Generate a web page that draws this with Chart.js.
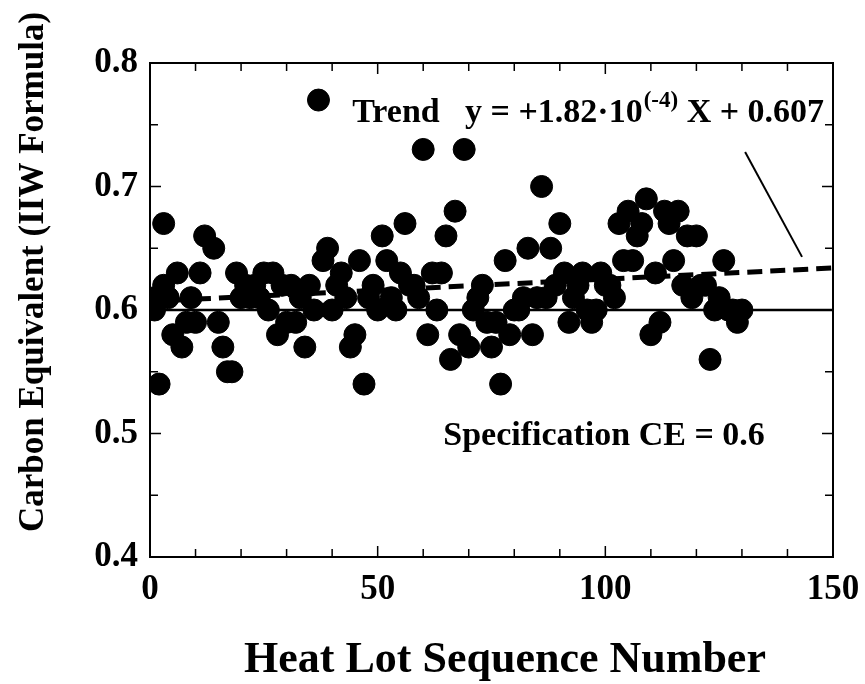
<!DOCTYPE html>
<html>
<head>
<meta charset="utf-8">
<script src="https://cdn.jsdelivr.net/npm/chart.js@4.4.1/dist/chart.umd.min.js"></script>
<style>
  html, body { margin: 0; padding: 0; background: #fff; }
  canvas { display: block; }
</style>
</head>
<body>
<canvas id="ceChart" width="865" height="684"></canvas>
<script>
// heat lot sequence numbers and carbon equivalent values
const heatLot = [
  1, 1, 2, 3, 3, 4, 5, 6, 7, 8, 9, 10, 11, 12, 14, 15, 16, 17, 18, 19,
  20, 21, 22, 23, 24, 25, 26, 27, 28, 29, 30, 31, 32, 33, 34, 35, 36, 37, 38, 39,
  40, 41, 42, 43, 44, 45, 46, 47, 48, 49, 50, 51, 52, 53, 54, 55, 56, 57, 58, 59,
  60, 61, 62, 63, 64, 65, 66, 67, 68, 69, 70, 71, 72, 73, 74, 75, 76, 77, 78, 79,
  80, 81, 82, 83, 84, 85, 86, 87, 88, 89, 90, 91, 92, 93, 94, 95, 96, 97, 98, 99,
  100, 101, 102, 103, 104, 105, 106, 107, 108, 109, 110, 111, 112, 113, 114, 115, 116, 117, 118, 119,
  120, 121, 122, 123, 124, 125, 126, 127, 128, 129, 130
];
const carbonEq = [
  0.61, 0.60, 0.54, 0.67, 0.62, 0.61, 0.58, 0.63, 0.57, 0.59, 0.61, 0.59, 0.63, 0.66, 0.65, 0.59, 0.57, 0.55, 0.55, 0.63,
  0.61, 0.62, 0.61, 0.62, 0.61, 0.63, 0.60, 0.63, 0.58, 0.62, 0.59, 0.62, 0.59, 0.61, 0.57, 0.62, 0.60, 0.77, 0.64, 0.65,
  0.60, 0.62, 0.63, 0.61, 0.57, 0.58, 0.64, 0.54, 0.61, 0.62, 0.60, 0.66, 0.64, 0.61, 0.60, 0.63, 0.67, 0.62, 0.62, 0.61,
  0.73, 0.58, 0.63, 0.60, 0.63, 0.66, 0.56, 0.68, 0.58, 0.73, 0.57, 0.60, 0.61, 0.62, 0.59, 0.57, 0.59, 0.54, 0.64, 0.58,
  0.60, 0.60, 0.61, 0.65, 0.58, 0.61, 0.70, 0.61, 0.65, 0.62, 0.67, 0.63, 0.59, 0.61, 0.62, 0.63, 0.60, 0.59, 0.60, 0.63,
  0.62, 0.62, 0.61, 0.67, 0.64, 0.68, 0.64, 0.66, 0.67, 0.69, 0.58, 0.63, 0.59, 0.68, 0.67, 0.64, 0.68, 0.62, 0.66, 0.61,
  0.66, 0.62, 0.62, 0.56, 0.60, 0.61, 0.64, 0.60, 0.60, 0.59, 0.60
];

// reference lines
const specX = [0, 150];
const specY = [0.6, 0.6];
const trendX = [0, 150];
const trendY = [0.607, 0.634];
const pointerX = [130.7, 143.2];
const pointerY = [0.728, 0.643];

// axis ticks
const xMinorTicks = [0, 10, 20, 30, 40, 50, 60, 70, 80, 90, 100, 110, 120, 130, 140, 150];
const yMinorTicks = [0.4, 0.45, 0.5, 0.55, 0.6, 0.65, 0.7, 0.75, 0.8];

const serif = '"Liberation Serif", "Times New Roman", serif';

function pairs(xs, ys) {
  return xs.map((x, i) => ({ x: x, y: ys[i] }));
}

// draws the frame, inward ticks and the text labels
const framePlugin = {
  id: 'frame',
  afterDraw(chart) {
    const ctx = chart.ctx;
    const area = chart.chartArea;
    const xs = chart.scales.x;
    const ys = chart.scales.y;
    ctx.save();
    ctx.strokeStyle = '#000';
    ctx.lineWidth = 2;
    ctx.strokeRect(area.left, area.top, area.right - area.left, area.bottom - area.top);

    ctx.lineWidth = 1.5;
    xMinorTicks.forEach(v => {
      const px = xs.getPixelForValue(v);
      const len = v % 50 === 0 ? 11 : 8;
      ctx.beginPath();
      ctx.moveTo(px, area.bottom); ctx.lineTo(px, area.bottom - len);
      ctx.moveTo(px, area.top); ctx.lineTo(px, area.top + len);
      ctx.stroke();
    });
    yMinorTicks.forEach(v => {
      const py = ys.getPixelForValue(v);
      const len = Math.round(v * 100) % 10 === 0 ? 11 : 8;
      ctx.beginPath();
      ctx.moveTo(area.left, py); ctx.lineTo(area.left + len, py);
      ctx.moveTo(area.right, py); ctx.lineTo(area.right - len, py);
      ctx.stroke();
    });

    ctx.fillStyle = '#000';
    ctx.textBaseline = 'alphabetic';
    ctx.textAlign = 'left';

    // trend equation
    ctx.font = 'bold 34px ' + serif;
    const ty = ys.getPixelForValue(0.752);
    ctx.fillText('Trend', xs.getPixelForValue(44.4), ty);
    let ex = xs.getPixelForValue(69.2);
    const part1 = 'y = +1.82\u00b710';
    ctx.fillText(part1, ex, ty);
    ex += ctx.measureText(part1).width;
    ctx.font = 'bold 23px ' + serif;
    ctx.fillText('(-4)', ex + 1, ty - 15);
    ex += ctx.measureText('(-4)').width + 1;
    ctx.font = 'bold 34px ' + serif;
    ctx.fillText(' X + 0.607', ex, ty);

    // specification label
    ctx.fillText('Specification CE = 0.6', xs.getPixelForValue(64.4), ys.getPixelForValue(0.491));

    // axis titles
    ctx.font = 'bold 44px ' + serif;
    ctx.textAlign = 'center';
    ctx.fillText('Heat Lot Sequence Number', 505, 672);

    ctx.font = 'bold 35px ' + serif;
    ctx.translate(34, 272);
    ctx.rotate(-Math.PI / 2);
    ctx.textBaseline = 'middle';
    ctx.fillText('Carbon Equivalent (IIW Formula)', 0, 0);
    ctx.restore();
  }
};

new Chart(document.getElementById('ceChart'), {
  type: 'scatter',
  data: {
    datasets: [
      {
        label: 'Heat lots',
        data: pairs(heatLot, carbonEq),
        backgroundColor: '#000',
        borderColor: '#000',
        pointRadius: 11,
        pointHoverRadius: 11,
        order: 1
      },
      {
        label: 'Specification',
        type: 'line',
        data: pairs(specX, specY),
        borderColor: '#000',
        borderWidth: 2.5,
        pointRadius: 0,
        order: 2
      },
      {
        label: 'Trend',
        type: 'line',
        data: pairs(trendX, trendY),
        borderColor: '#000',
        borderWidth: 5,
        borderDash: [15, 8],
        pointRadius: 0,
        order: 3
      },
      {
        label: 'Pointer',
        type: 'line',
        data: pairs(pointerX, pointerY),
        borderColor: '#000',
        borderWidth: 2,
        pointRadius: 0,
        order: 4
      }
    ]
  },
  options: {
    responsive: false,
    animation: false,
    events: [],
    layout: { padding: { top: 63, right: 32, left: 0, bottom: 0 } },
    plugins: {
      legend: { display: false },
      tooltip: { enabled: false }
    },
    scales: {
      x: {
        type: 'linear',
        min: 0,
        max: 150,
        grid: { display: false, drawTicks: false },
        border: { display: false },
        ticks: {
          stepSize: 50,
          padding: 12,
          color: '#000',
          font: { family: serif, size: 35, weight: 'bold' }
        },
        afterFit(scale) {
          scale.height = 127;
          scale.paddingLeft = 0;
          scale.paddingRight = 0;
        }
      },
      y: {
        type: 'linear',
        min: 0.4,
        max: 0.8,
        grid: { display: false, drawTicks: false },
        border: { display: false },
        ticks: {
          stepSize: 0.1,
          padding: 12,
          color: '#000',
          font: { family: serif, size: 35, weight: 'bold' },
          callback: v => v.toFixed(1)
        },
        afterFit(scale) {
          scale.width = 150;
          scale.paddingTop = 0;
          scale.paddingBottom = 0;
        }
      }
    }
  },
  plugins: [framePlugin]
});
</script>
</body>
</html>
